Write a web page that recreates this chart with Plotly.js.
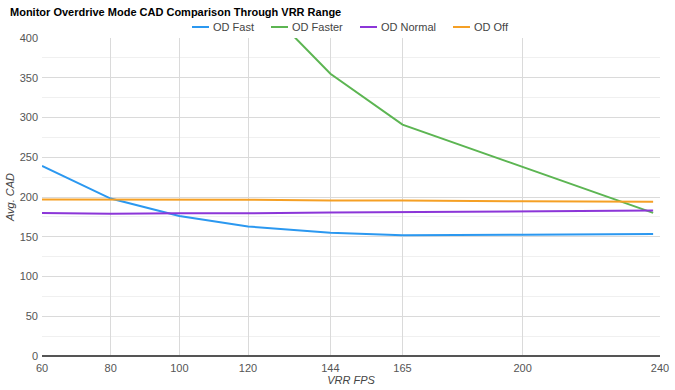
<!DOCTYPE html>
<html>
<head>
<meta charset="utf-8">
<script src="https://cdn.plot.ly/plotly-3.0.1.min.js"></script>
<style>
html,body{margin:0;padding:0;background:#fff;}
#chart{width:675px;height:390px;}
</style>
</head>
<body>
<div id="chart"></div>
<script>
var fps = [60, 80, 100, 120, 144, 165, 200, 238];
var tickVals = [60, 80, 100, 120, 144, 165, 200, 240];
var tickText = ["60", "80", "100", "120", "144", "165", "200", "240"];
var odFast = [239, 198, 176, 163, 155, 152, 152.5, 153.5];
var odFaster = [null, null, null, 461, 355, 291, 238, 180];
var odNormal = [180, 179, 179.5, 179.5, 180.5, 181, 182, 183];
var odOff = [197, 197, 197, 196.5, 195.5, 195.5, 194.5, 194];
var seriesNames = ["OD Fast", "OD Faster", "OD Normal", "OD Off"];
var seriesColors = ["#2b98f0", "#5cb552", "#8c36d8", "#f5a025"];
var seriesData = [odFast, odFaster, odNormal, odOff];

var W = 675, H = 390, ML = 42, MR = 15, MT = 38, MB = 34;
var PW = W - ML - MR, PH = H - MT - MB;
function px2x(p) { return (p - ML) / PW; }
function py2y(p) { return (H - MB - p) / PH; }

var traces = seriesData.map(function (ys, i) {
  return {
    x: fps, y: ys, name: seriesNames[i], type: "scatter", mode: "lines",
    line: {color: seriesColors[i], width: 2}, connectgaps: false
  };
});

// custom legend (positions in pixels)
var legLineStart = [192, 271, 360, 453];
var legY = 27;
var shapes = [], annotations = [];
seriesNames.forEach(function (n, i) {
  shapes.push({type: "line", xref: "paper", yref: "paper",
    x0: px2x(legLineStart[i]), x1: px2x(legLineStart[i] + 17),
    y0: py2y(legY), y1: py2y(legY),
    line: {color: seriesColors[i], width: 2}});
  annotations.push({xref: "paper", yref: "paper", x: px2x(legLineStart[i] + 20),
    y: py2y(legY), xanchor: "left", yanchor: "middle", showarrow: false,
    text: n, font: {size: 11, color: "#444"}, borderpad: 0});
});

var layout = {
  width: W, height: H,
  margin: {l: ML, r: MR, t: MT, b: MB},
  paper_bgcolor: "#fff", plot_bgcolor: "#fff",
  font: {family: "Liberation Sans, Arial, sans-serif", size: 11, color: "#444"},
  title: {
    text: "<b>Monitor Overdrive Mode CAD Comparison Through VRR Range</b>",
    x: 10 / W, xanchor: "left", y: 1 - 12 / H, yanchor: "middle",
    font: {family: "Liberation Sans, Arial, sans-serif", size: 11, color: "#000"}
  },
  showlegend: false,
  shapes: shapes,
  annotations: annotations,
  xaxis: {
    range: [60, 240], tickmode: "array", tickvals: tickVals, ticktext: tickText,
    showgrid: true, gridcolor: "#dadada", gridwidth: 1,
    zeroline: false, showline: false, ticks: "", automargin: false,
    ticklabelstandoff: 4,
    tickfont: {size: 11, color: "#555"},
    title: {text: "<i>VRR FPS</i>", font: {size: 11, color: "#444"}, standoff: 2}
  },
  yaxis: {
    range: [0, 400], dtick: 50, tick0: 0, automargin: false,
    showgrid: true, gridcolor: "#dadada", gridwidth: 1,
    minor: {dtick: 25, tick0: 0, showgrid: true, gridcolor: "#f0f0f0", gridwidth: 1},
    zeroline: true, zerolinecolor: "#555", zerolinewidth: 1.3,
    showline: false, ticks: "", ticklabelstandoff: 3,
    tickfont: {size: 11, color: "#555"},
    title: {text: "<i>Avg. CAD</i>", font: {size: 11, color: "#444"}, standoff: 2}
  }
};

Plotly.newPlot("chart", traces, layout, {displayModeBar: false, staticPlot: true});
</script>
</body>
</html>
